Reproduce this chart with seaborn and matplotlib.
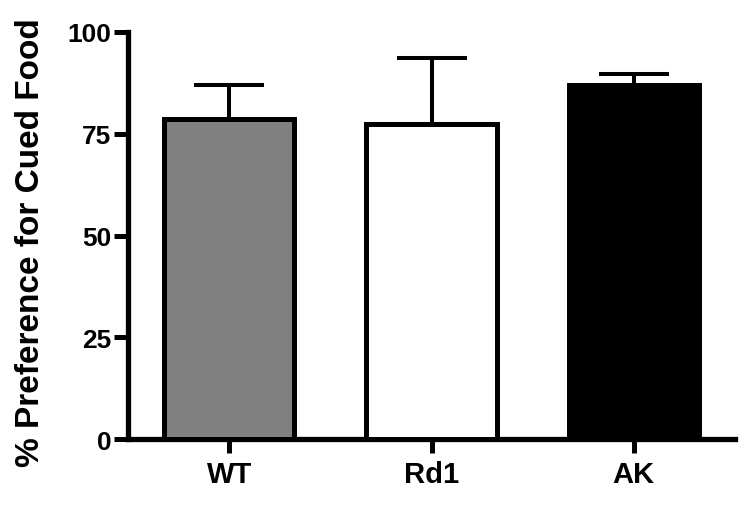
import numpy as np
import matplotlib
matplotlib.use("Agg")
import matplotlib.pyplot as plt
import seaborn as sns

groups = ["WT", "Rd1", "AK"]
means = [78.7, 77.4, 86.9]
errors = [8.3, 16.1, 2.9]
bar_colors = ["#808080", "#ffffff", "#000000"]
y_ticks = [0, 25, 50, 75, 100]

sns.set_style("ticks")
plt.rcParams["font.family"] = ["Liberation Sans", "DejaVu Sans"]
plt.rcParams["font.weight"] = "bold"
plt.rcParams["text.color"] = "black"
plt.rcParams["axes.labelcolor"] = "black"
plt.rcParams["xtick.color"] = "black"
plt.rcParams["ytick.color"] = "black"

fig = plt.figure(figsize=(7.5, 5.06), dpi=100)
ax = fig.add_axes([0.1707, 0.1304, 0.8093, 0.8044])

sns.barplot(x=groups, y=means, hue=groups, palette=bar_colors, width=0.645,
            edgecolor="black", linewidth=3.6, legend=False, ax=ax, zorder=3)

# upper error bars only
ax.errorbar(np.arange(len(groups)), means, yerr=[np.zeros(len(errors)), errors],
            fmt="none", ecolor="black", elinewidth=2.9, capsize=25, capthick=2.9,
            zorder=2)

ax.set_xlim(-0.5, 2.5)
ax.set_ylim(0, 100)
ax.set_yticks(y_ticks)
ax.set_ylabel("% Preference for Cued Food", fontsize=24, fontweight="bold", color="black")
ax.yaxis.set_label_coords(-0.135, 0.486)
ax.set_xlabel("")

for side in ["top", "right"]:
    ax.spines[side].set_visible(False)
for side in ["left", "bottom"]:
    ax.spines[side].set_linewidth(3.8)
    ax.spines[side].set_color("black")
    ax.spines[side].set_capstyle("projecting")

ax.tick_params(axis="both", width=3.6, length=10, color="black", direction="out",
               labelcolor="black")
ax.tick_params(axis="y", labelsize=19, pad=2)
ax.tick_params(axis="x", labelsize=21, pad=5)
for lbl in ax.get_xticklabels() + ax.get_yticklabels():
    lbl.set_fontweight("bold")

fig.savefig("out.png", dpi=100)
